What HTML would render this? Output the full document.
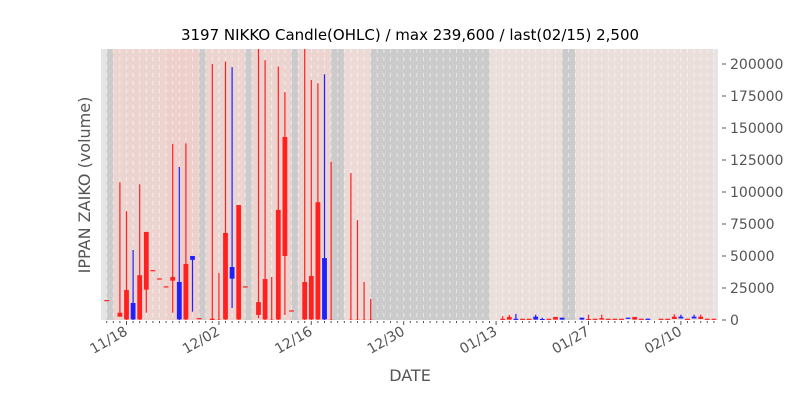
<!DOCTYPE html>
<html><head><meta charset="utf-8">
<style>
body{margin:0;background:#fff;}
svg{display:block;font-family:"DejaVu Sans","Liberation Sans",sans-serif;}
</style></head>
<body>
<svg id="chart" width="800" height="400" viewBox="0 0 800 400">
<text x="410" y="40" text-anchor="middle" font-size="15" fill="#000">3197 NIKKO Candle(OHLC) / max 239,600 / last(02/15) 2,500</text>
<text transform="translate(90,185) rotate(-90)" text-anchor="middle" font-size="16" fill="#555">IPPAN ZAIKO (volume)</text>
<text x="410" y="381" text-anchor="middle" font-size="16" fill="#555">DATE</text>
<g id="plot"></g>
</svg>
<script>
// candles: day index from 11/18
const days   = [-3,-1,0,1,2,3,4,5,6,7,8,9,10,11,13,14,15,16,17,18,20,21,22,23,24,25,27,28,29,30,31,34,35,36,37,
  57,58,59,60,61,62,63,64,65,66,69,70,71,72,73,74,75,76,77,78,79,81,82,83,84,85,86,87,88,89];
const opens  = [15.6,2.6,0.5,13.3,0.5,23.7,39,32.5,26.3,30.7,29.7,0.5,50,1.5,0,0,0.5,41.4,0.5,26.3,4,0.5,0,0.5,50,7.5,0.5,0.5,0.5,48.4,0,0,0,0,0,
  0.5,0.3,1.0,1,1,2.6,0.8,1,0.3,1.8,1.8,0.5,1,0.3,1,1,1,1.8,0.3,1,1.0,1,1,0.8,2.6,1,2.6,0.8,1,1];
const highs  = [15.6,107.5,85,54.7,106,68.8,39,32.5,26.3,137.5,119.5,138,50,1.5,200,36.7,202,197.6,89.8,26.3,239.6,203,33.6,198,178,7.5,239.6,187.5,185,192,123.6,114.8,78,29.7,16.4,
  3,4,4.8,1,1,4.2,1.8,1,2.4,1.8,1.8,4.2,1,4.2,1,1,1,1.8,2.4,1,1.2,1,1,4.5,4.2,1,4.2,4.2,1,1];
const lows   = [15.6,2.6,0,0,0,5.7,39,32.5,26.3,5.7,0,0,6.5,1.5,0,0,0,9.4,0,26.3,1.5,0,0,0,3.9,7.5,0,0,0,0,0,0,0,0,0,
  0.3,0.3,0.8,1,1,0.3,0.3,1,0.3,0.3,0.3,0.3,1,0.3,1,1,1,0.8,0.3,1,0.5,1,1,0.8,1.2,1,1.2,0.8,1,1];
const closes = [15.6,5.7,23.4,0.5,35,68.8,39,32.5,26.3,33.6,0.5,43.8,47,1.5,1,0.2,68,32.3,89.8,26.3,14,32,0.2,86,143,7.5,29.7,34.4,92,0.5,0.2,0.2,0.2,0.2,0.2,
  1.0,2.4,0.8,1,1,0.3,0.5,1,2.4,0.3,0.3,0.8,1,1.5,1,1,1,1.0,2.4,1,0.6,1,1,2.6,1.2,1,1.2,2.6,1,1];
// background bands [startDay, endDay, kind]
const bandStart = [-3,-2,6,11,12,18,19,25,26,31,33,37,55,66,68];
const bandEnd   = [-2,6,11,12,18,19,25,26,31,33,37,55,66,68,89];
const bandKind  = ["g","p","d","g","p","g","p","g","p","g","l","g","q","g","q"];
const yTicks = [0,25000,50000,75000,100000,125000,150000,175000,200000];
const xMajorDays = [0,14,28,42,56,70,84];
const xMajorLabels = ["11/18","12/02","12/16","12/30","01/13","01/27","02/10"];

const L=101,R=718,T=49,B=320;
const xs = d => 126.5 + 6.6*d;
const ys = v => 320 - v*1.28; // v in thousands
const NS="http://www.w3.org/2000/svg";
const plot=document.getElementById('plot');
function mk(tag,attrs,parent){const e=document.createElementNS(NS,tag);for(const k in attrs)e.setAttribute(k,attrs[k]);(parent||plot).appendChild(e);return e;}
const clip=mk('clipPath',{id:'c'});mk('rect',{x:L,y:T,width:R-L,height:B-T},clip);
const bg=mk('rect',{x:L,y:T,width:R-L,height:B-T,fill:'#e5e5e5'});


const colors={g:'#cbcbcb',p:'#ecd5d0',d:'#eecfcb',l:'#eddad6',q:'#eadfdb'};
const g=mk('g',{'clip-path':'url(#c)'});
bandStart.forEach((s,i)=>{
  const r=mk('rect',{x:xs(s),y:T,width:xs(bandEnd[i])-xs(s),height:B-T,fill:colors[bandKind[i]]},g);
  
  
});
for(let d=-3;d<=89;d++){
  const ln=mk('line',{x1:xs(d),x2:xs(d),y1:T,y2:B,stroke:'#fff','stroke-opacity':0.55,'stroke-dasharray':'4,4','stroke-width':1},g);
  
  
}
days.forEach((d,i)=>{
  const o=opens[i],h=highs[i],l=lows[i],c=closes[i];
  const col=c>=o?'#ff2020':'#2020ff';
  const cg=mk('g',{},g);
  
  
  mk('line',{x1:xs(d),x2:xs(d),y1:ys(h),y2:ys(l),stroke:col,'stroke-width':1.2},cg);
  const top=ys(Math.max(o,c)),bot=ys(Math.min(o,c));
  mk('rect',{x:xs(d)-2.4,y:top,width:4.8,height:Math.max(bot-top,1.2),fill:col},cg);
});
// x ticks
for(let d=-4;d<=89;d++){
  const x=xs(d); if(x<L||x>R)continue;
  const major=xMajorDays.includes(d);
  const t=mk('line',{x1:x,x2:x,y1:B+1,y2:B+(major?5:3),stroke:'#555','stroke-width':1});
  
  
}
xMajorDays.forEach((d,i)=>{
  const t=mk('text',{transform:`translate(${xs(d)+2},${B+14}) rotate(-30)`,'text-anchor':'end','font-size':14,fill:'#555'});
  t.textContent=xMajorLabels[i];
  
  
});
yTicks.forEach(v=>{
  const y=ys(v/1000);
  const t=mk('line',{x1:R+4,x2:R+8,y1:y,y2:y,stroke:'#555','stroke-width':1});
  
  
  const tx=mk('text',{x:R+12,y:y+5,'font-size':14,fill:'#555'});
  tx.textContent=String(v);
  
  
});
</script>
</body></html>
